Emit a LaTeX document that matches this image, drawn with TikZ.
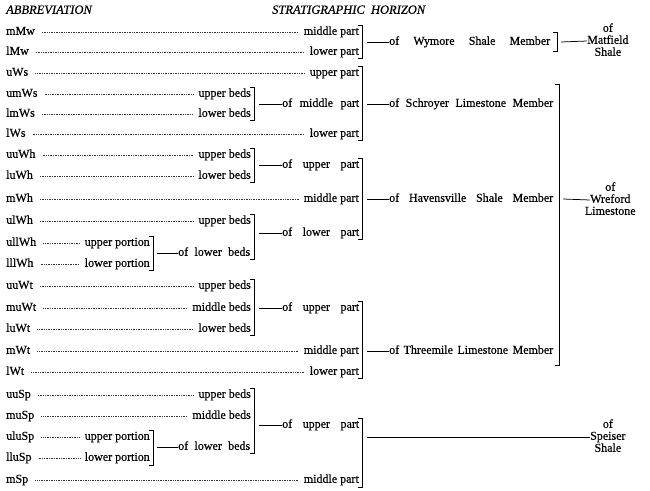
\documentclass[tikz,border=0pt]{standalone}
\usepackage{fontspec}
\setmainfont{Liberation Serif}[FakeBold=0.35]
\newcommand{\bracketat}[3]{\draw[brk] (#1,#2) ++(-4,0) -- ++(4,0) -- (#1,#3) -- ++(-4,0);}
\begin{document}
\begin{tikzpicture}[x=1pt,y=-1pt,
  every node/.style={inner sep=0pt, font=\fontsize{12}{12}\selectfont, text height=8pt, text depth=2.5pt},
  leader/.style={line width=0.5pt, dash pattern=on 0.6pt off 1.1pt, black!80, shorten <=7pt, shorten >=5pt},
  brk/.style={line width=1pt},
  conn/.style={line width=0.75pt},
  hdr/.style={font=\fontsize{12.5}{12.5}\selectfont\itshape}]
\useasboundingbox (0,0) rectangle (650,490);
% headers
\node[hdr, anchor=west] (h1) at (6,11) {ABBREVIATION};
\node[hdr, anchor=west] (h2) at (272,11) {STRATIGRAPHIC\ \ HORIZON};
% rows
\foreach \n/\ab/\tx/\xr/\y in {
 1/mMw/middle part/359/32,
 2/lMw/lower part/359/52,
 3/uWs/upper part/359/73,
 4/umWs/upper beds/251/94,
 5/lmWs/lower beds/251/114,
 6/lWs/lower part/359/134,
 7/uuWh/upper beds/251/155,
 8/luWh/lower beds/251/176,
 9/mWh/middle part/359/199,
 10/ulWh/upper beds/251/221,
 11/ullWh/upper portion/150/243,
 12/lllWh/lower portion/150/264,
 13/uuWt/upper beds/251/286,
 14/muWt/middle beds/251/308,
 15/luWt/lower beds/251/329,
 16/mWt/middle part/359/351,
 17/lWt/lower part/359/372,
 18/uuSp/upper beds/251/395,
 19/muSp/middle beds/251/416,
 20/uluSp/upper portion/150/437,
 21/lluSp/lower portion/150/458,
 22/mSp/middle part/359/480}{
  \node[anchor=west] (a\n) at (6,\y) {\ab};
  \node[anchor=east] (t\n) at (\xr,\y) {\tx};
  \draw[leader] (a\n.east) -- (t\n.west);
}
% level 3 brackets -> of lower beds
\bracketat{153}{236}{270}
\coordinate (k1) at (157,253);
\node[anchor=west] (olb1) at (178,253) {\makebox[72pt][s]{of lower beds}};
\draw[conn] (k1) -- (olb1.west);
\bracketat{153}{430}{465}
\coordinate (k2) at (157,447);
\node[anchor=west] (olb2) at (178,447) {\makebox[72pt][s]{of lower beds}};
\draw[conn] (k2) -- (olb2.west);
% level 2 brackets -> of ... part
\bracketat{254}{87}{120}
\coordinate (m1) at (259,104);
\node[anchor=west] (p1) at (282,104) {\makebox[77pt][s]{of middle part}};
\draw[conn] (m1) -- (p1.west);
\bracketat{254}{148}{182}
\coordinate (m2) at (259,165);
\node[anchor=west] (p2) at (282,165) {\makebox[77pt][s]{of upper part}};
\draw[conn] (m2) -- (p2.west);
\bracketat{254}{214}{259}
\coordinate (m3) at (259,233);
\node[anchor=west] (p3) at (282,233) {\makebox[77pt][s]{of lower part}};
\draw[conn] (m3) -- (p3.west);
\bracketat{254}{279}{335}
\coordinate (m4) at (259,308);
\node[anchor=west] (p4) at (282,308) {\makebox[77pt][s]{of upper part}};
\draw[conn] (m4) -- (p4.west);
\bracketat{254}{388}{453}
\coordinate (m5) at (259,425);
\node[anchor=west] (p5) at (282,425) {\makebox[77pt][s]{of upper part}};
\draw[conn] (m5) -- (p5.west);
% level 1 brackets -> members
\bracketat{362}{25}{58}
\coordinate (n1) at (367,42);
\node[anchor=west] (wym) at (389,42) {\makebox[161pt][s]{of Wymore Shale Member}};
\draw[conn] (n1) -- (wym.west);
\bracketat{362}{66}{140}
\coordinate (n2) at (367,104);
\node[anchor=west] (sch) at (389,104) {\makebox[164pt][s]{of Schroyer Limestone Member}};
\draw[conn] (n2) -- (sch.west);
\bracketat{362}{158}{239}
\coordinate (n3) at (367,199);
\node[anchor=west] (hav) at (389,199) {\makebox[164pt][s]{of Havensville Shale Member}};
\draw[conn] (n3) -- (hav.west);
\bracketat{362}{301}{378}
\coordinate (n4) at (367,351);
\node[anchor=west] (thr) at (389,351) {\makebox[164pt][s]{of Threemile Limestone Member}};
\draw[conn] (n4) -- (thr.west);
\bracketat{362}{418}{487}
\coordinate (n5) at (367,437);
% formations
\node[anchor=west] (matf) at (587,41) {Matfield};
\node (mof) at ([yshift=12pt]matf.center) {of};
\node (msh) at ([yshift=-12pt]matf.center) {Shale};
\bracketat{557}{32}{51}
\coordinate (f1) at (561,42);
\draw[conn] (f1) -- (matf.west);
\node[anchor=west] (wref) at (590,200) {Wreford};
\node (wof) at ([yshift=12pt]wref.center) {of};
\node (wls) at ([yshift=-12pt]wref.center) {Limestone};
\bracketat{559}{84}{365}
\coordinate (f2) at (563,199);
\draw[conn] (f2) -- (wref.west);
\node[anchor=west] (speis) at (590,437) {Speiser};
\node (sof) at ([yshift=12pt]speis.center) {of};
\node (ssh) at ([yshift=-12pt]speis.center) {Shale};
\draw[conn] (n5) -- (speis.west);
\end{tikzpicture}
\end{document}
